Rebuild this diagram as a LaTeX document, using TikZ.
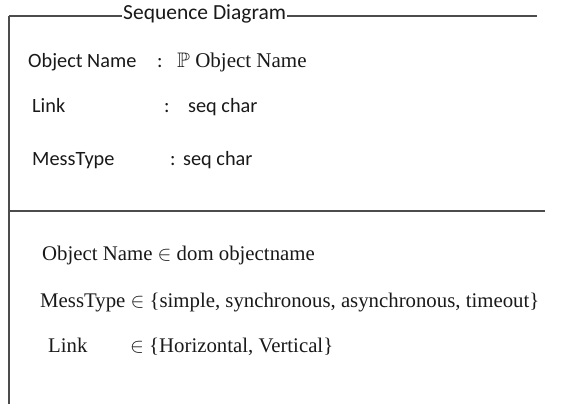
\documentclass[tikz,border=0pt]{standalone}
\usepackage{fontspec}
\usepackage{amssymb}
\setmainfont{Liberation Serif}
\newfontfamily\schemasans{Carlito}
\usetikzlibrary{positioning}

\begin{document}
\begin{tikzpicture}[x=1pt, y=-1pt,
        frame/.style={draw=black!70, line width=1.6pt},
        decl/.style={anchor=base west, inner sep=0pt, text=black!90, font=\schemasans\fontsize{20.3}{24}\selectfont},
        declser/.style={anchor=base west, inner sep=0pt, text=black!90, font=\fontsize{21}{25}\selectfont},
        pred/.style={anchor=base west, inner sep=0pt, text=black!90, font=\fontsize{20.8}{25}\selectfont}
    ]
        \useasboundingbox (0,0) rectangle (568,404);

        % schema frame
        \coordinate (tl) at (9,16);
        \coordinate (tr) at (537,16);
        \coordinate (bl) at (9,404);
        \coordinate (ml) at (9,211);
        \coordinate (mr) at (545,211);
        \node[decl, inner xsep=1pt, font=\schemasans\fontsize{21.5}{25}\selectfont] (title) at (122,20) {Sequence Diagram};

        % declarations
        \node[decl] (objname) at (28,67) {Object Name};
        \node[decl] (objcolon) at (157,67) {:};
        \node[declser] (objtype) at (177,67) {$\mathbb{P}$ Object Name};
        \node[decl] (link) at (32,113) {Link};
        \node[decl] (linkcolon) at (164,113) {:};
        \node[decl] (linktype) at (188,113) {seq char};
        \node[decl] (messtype) at (32,165) {MessType};
        \node[decl] (messcolon) at (170,165) {:};
        \node[decl] (messtypeseq) at (183,165) {seq char};

        % predicates
        \node[pred] (domobj) at (42,260) {Object Name $\in$ dom objectname};
        \node[pred] (messset) at (40,307) {MessType $\in$ \{simple, synchronous, asynchronous, timeout\}};
        \node[pred] (linkname) at (48,352) {Link};
        \node[pred] (linkset) at (130,352) {$\in$ \{Horizontal, Vertical\}};

        \draw[frame] (tl) -- (tl -| title.west);
        \draw[frame] (tl -| title.east) -- (tr);
        \draw[frame] (tl) -- (bl);
        \draw[frame] (ml) -- (mr);
    \end{tikzpicture}
\end{document}
